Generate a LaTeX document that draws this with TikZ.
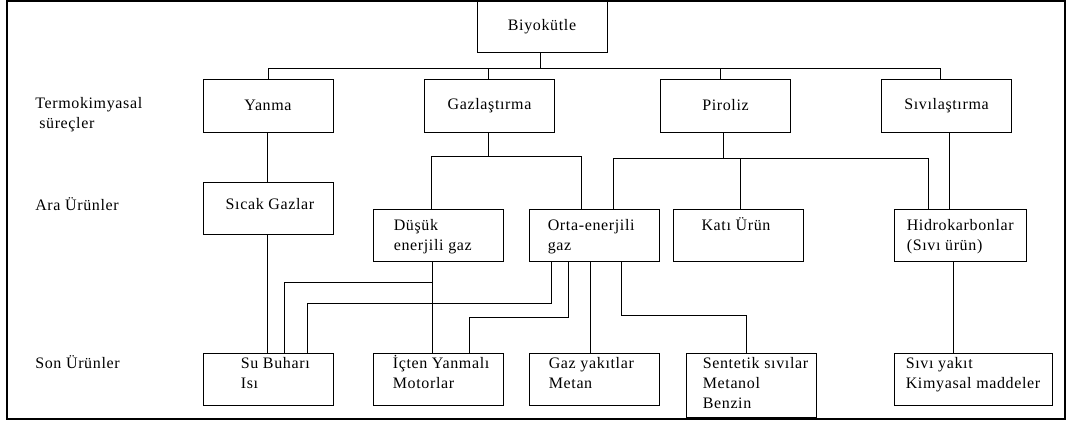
\documentclass[tikz,border=0pt]{standalone}
\usepackage{fontspec}
\setmainfont{Liberation Serif}[LetterSpace=4]

\begin{document}
\begin{tikzpicture}[x=0.75pt, y=-0.75pt,
    % boxes, texts and lines
    box/.style={draw, line width=0.7pt, minimum width=97.5pt, minimum height=39pt, inner sep=0pt, font=\fontsize{12}{15}\selectfont},
    proc/.style={box, minimum height=39.75pt},
    txt/.style={anchor=north west, align=left, inner sep=0pt, font=\fontsize{12}{15}\selectfont},
    conn/.style={line width=0.7pt}]

\useasboundingbox (0,0) rectangle (1068,425);
\draw[line width=2.2pt] (7,1) rectangle (1065,419);

% Side labels
\node[txt] (l1) at (35,94) {\strut Termokimyasal\\\hspace*{3pt}süreçler};
\node[txt] (l2) at (35,196) {\strut Ara Ürünler};
\node[txt] (l3) at (35,354) {\strut Son Ürünler};

% Top and processes
\node[box, minimum height=38.25pt] (bio) at (542,27) {Biyokütle};
\node[proc] (yanma) at (268,105.5) {Yanma};
\node[proc] (gaz) at (489.5,105.5) {Gazlaştırma};
\node[proc] (pir) at (725.5,105.5) {Piroliz};
\node[proc] (siv) at (946.5,105.5) {Sıvılaştırma};

% Intermediate products
\node[box] (sicak) at (268,208) {};
\node[box] (dusuk) at (438,235) {};
\node[box] (orta) at (594,235) {};
\node[box] (kati) at (738,235) {};
\node[box, minimum width=99pt] (hidro) at (960,235) {};
\node[txt, anchor=north] (sicak-t) at ([shift={(2,13.5)}]sicak.north) {\strut Sıcak Gazlar};
\node[txt] (dusuk-t) at ([shift={(21,8)}]dusuk.north west) {\strut Düşük\\enerjili gaz};
\node[txt] (orta-t) at ([shift={(19,8)}]orta.north west) {\strut Orta-enerjili\\gaz};
\node[txt, anchor=north] (kati-t) at ([shift={(-2,8)}]kati.north) {\strut Katı Ürün};
\node[txt] (hidro-t) at ([shift={(13,8)}]hidro.north west) {\strut Hidrokarbonlar\\(Sıvı ürün)};

% End products
\node[box] (su) at (268,379) {};
\node[box] (icten) at (438,379) {};
\node[box] (gazy) at (594,379) {};
\node[box, minimum height=48.4pt] (sent) at (751,385.25) {};
\node[box, minimum width=118.5pt] (sivi) at (973,379) {};
\node[txt] (su-t) at ([shift={(38,1.5)}]su.north west) {\strut Su Buharı\\Isı};
\node[txt] (icten-t) at ([shift={(20,1.5)}]icten.north west) {\strut İçten Yanmalı\\Motorlar};
\node[txt] (gazy-t) at ([shift={(20,1.5)}]gazy.north west) {\strut Gaz yakıtlar\\Metan};
\node[txt] (sent-t) at ([shift={(17,1.5)}]sent.north west) {\strut Sentetik sıvılar\\Metanol\\Benzin};
\node[txt] (sivi-t) at ([shift={(12,1.5)}]sivi.north west) {\strut Sıvı yakıt\\Kimyasal maddeler};

% Biyokütle to processes
\draw[conn] ([shift={(-2,0)}]bio.south) -- ++(0,15.5) coordinate (bj);
\draw[conn] (yanma.north) |- (bj) -| ([shift={(-6.5,0)}]siv.north);
\draw[conn] ([shift={(-1.5,0)}]gaz.north) -- ([shift={(-1.5,0)}]gaz.north |- bj);
\draw[conn] ([shift={(-5.5,0)}]pir.north) -- ([shift={(-5.5,0)}]pir.north |- bj);

% Processes to intermediate products
\draw[conn] ([shift={(-1,0)}]yanma.south) -- ([shift={(-1,0)}]sicak.north);
\draw[conn] ([shift={(-1.5,0)}]gaz.south) -- ++(0,24) coordinate (gj);
\draw[conn] ([shift={(-7,0)}]dusuk.north) |- (gj) -| ([shift={(-12.5,0)}]orta.north);
\draw[conn] ([shift={(-2.5,0)}]pir.south) -- ++(0,25.5) coordinate (pj);
\draw[conn] ([shift={(19,0)}]orta.north) |- (pj) -| ([shift={(-32,0)}]hidro.north);
\draw[conn] ([shift={(2,0)}]kati.north) -- ([shift={(2,0)}]kati.north |- pj);
\draw[conn] ([shift={(2.5,0)}]siv.south) -- ([shift={(-11,0)}]hidro.north);

% Intermediate to end products
\draw[conn] ([shift={(-1,0)}]sicak.south) -- ([shift={(-1,0)}]su.north);
\draw[conn] ([shift={(-6,0)}]dusuk.south) -- ([shift={(-6,0)}]icten.north);
\path ([shift={(-6,0)}]dusuk.south) ++(0,21) coordinate (dj);
\draw[conn] (dj) -| ([shift={(16.5,0)}]su.north);
\draw[conn] ([shift={(-43,0)}]orta.south) -- ++(0,42) -| ([shift={(39,0)}]su.north);
\draw[conn] ([shift={(-26,0)}]orta.south) -- ++(0,56) -| ([shift={(31,0)}]icten.north);
\draw[conn] ([shift={(-4,0)}]orta.south) -- ([shift={(-4,0)}]gazy.north);
\draw[conn] ([shift={(27,0)}]orta.south) -- ++(0,53.5) -| ([shift={(-5,0)}]sent.north);
\draw[conn] ([shift={(-7,0)}]hidro.south) -- ([shift={(-20,0)}]sivi.north);

\end{tikzpicture}
\end{document}
